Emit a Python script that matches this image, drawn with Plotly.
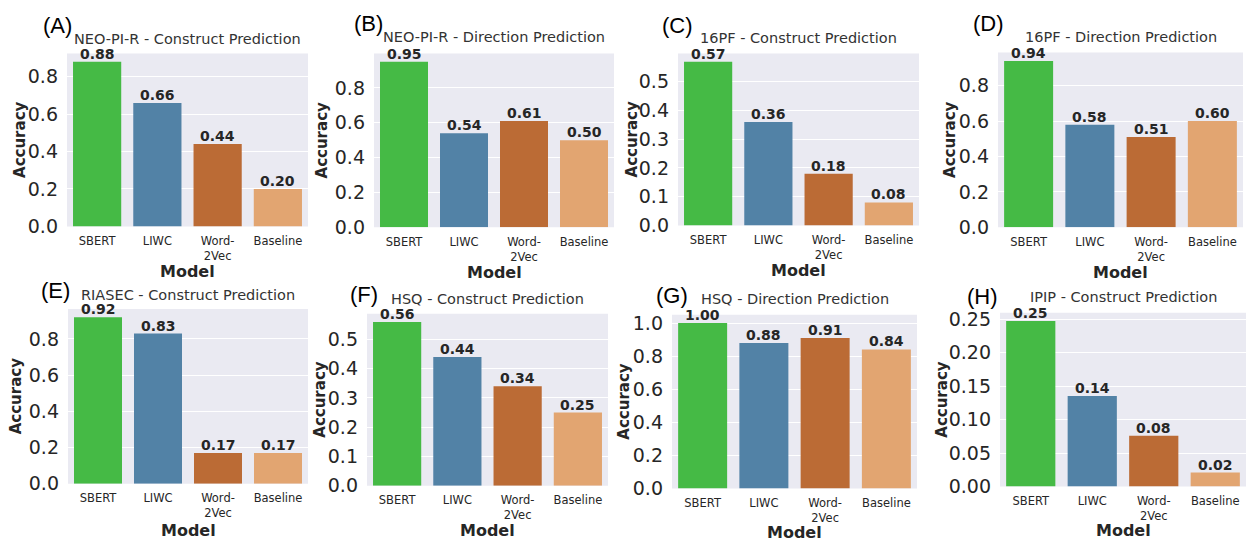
import plotly.graph_objects as go

models = ["SBERT", "LIWC", "Word-<br>2Vec", "Baseline"]
bar_colors = ["rgb(69,186,69)", "rgb(82,130,166)", "rgb(187,107,53)", "rgb(226,165,113)"]

panel_letters = ["(A)", "(B)", "(C)", "(D)", "(E)", "(F)", "(G)", "(H)"]
panel_titles = [
    "NEO-PI-R - Construct Prediction",
    "NEO-PI-R - Direction Prediction",
    "16PF - Construct Prediction",
    "16PF - Direction Prediction",
    "RIASEC - Construct Prediction",
    "HSQ - Construct Prediction",
    "HSQ - Direction Prediction",
    "IPIP - Construct Prediction",
]

acc_A = [0.88, 0.66, 0.44, 0.20]
acc_B = [0.95, 0.54, 0.61, 0.50]
acc_C = [0.57, 0.36, 0.18, 0.08]
acc_D = [0.94, 0.58, 0.51, 0.60]
acc_E = [0.92, 0.83, 0.17, 0.17]
acc_F = [0.56, 0.44, 0.34, 0.25]
acc_G = [1.00, 0.88, 0.91, 0.84]
acc_H = [0.247, 0.135, 0.076, 0.021]
all_acc = [acc_A, acc_B, acc_C, acc_D, acc_E, acc_F, acc_G, acc_H]

y_dticks = [0.2, 0.2, 0.1, 0.2, 0.2, 0.1, 0.2, 0.05]
y_formats = [".1f", ".1f", ".1f", ".1f", ".1f", ".1f", ".1f", ".2f"]

# layout (pixel boxes of plot areas)
W, H = 1247, 551
boxes = [
    (67, 308, 50, 228), (374, 614, 50, 229), (678, 919, 50, 227), (998, 1243, 49, 229),
    (68, 308, 313, 493), (367, 608, 318, 495), (672, 917, 319, 498), (1000, 1246, 317, 496),
]
title_y = [35, 33, 34, 33, 299, 303, 303, 301]
letter_pos = [(41, 21), (352, 19), (660, 21), (971, 19), (39, 294), (348, 298), (654, 299), (965, 300)]
ylab_x = [20, 322, 632, 950, 16, 320, 624, 942]
xlab_y = [274, 275, 273, 275, 541, 541, 543, 541]

TXT = "#262626"
fig = go.Figure()
annotations = []
layout = {}

for i, acc in enumerate(all_acc):
    n = i + 1
    xa = "x" if n == 1 else f"x{n}"
    ya = "y" if n == 1 else f"y{n}"
    x0, x1, y0, y1 = boxes[i]
    fig.add_trace(go.Bar(
        x=models, y=acc, xaxis=xa, yaxis=ya,
        marker=dict(color=bar_colors, line=dict(width=0)),
        showlegend=False, hoverinfo="x+y",
    ))
    ymax = max(acc) * 1.05
    layout[f"xaxis{'' if n == 1 else n}"] = dict(
        domain=[x0 / W, x1 / W], anchor=ya, range=[-0.5, 3.5],
        showgrid=False, zeroline=False, showline=False, ticks="",
        tickfont=dict(family="DejaVu Sans", size=11.5, color=TXT),
        ticklabelstandoff=6, fixedrange=True,
    )
    layout[f"yaxis{'' if n == 1 else n}"] = dict(
        domain=[1 - y1 / H, 1 - y0 / H], anchor=xa, range=[0, ymax],
        dtick=y_dticks[i], tick0=0, tickformat=y_formats[i],
        showgrid=True, gridcolor="white", gridwidth=1.2,
        zeroline=False, showline=False, ticks="",
        tickfont=dict(family="DejaVu Sans", size=19, color=TXT),
        ticklabelstandoff=8, fixedrange=True,
    )
    # plot background
    fig.add_shape(type="rect", xref="paper", yref="paper",
                  x0=x0 / W, x1=x1 / W, y0=1 - y1 / H, y1=1 - y0 / H,
                  fillcolor="#eaeaf2", line=dict(width=0), layer="below")
    # value labels
    for m, v in zip(models, acc):
        annotations.append(dict(
            x=m, y=v, xref=xa, yref=ya, text=f"<b>{v:.2f}</b>", showarrow=False,
            yanchor="bottom", yshift=-2,
            font=dict(family="DejaVu Sans", size=14, color=TXT),
        ))
    cx = (x0 + x1) / 2 / W
    annotations.append(dict(
        x=cx, y=1 - title_y[i] / H, xref="paper", yref="paper",
        text=panel_titles[i], showarrow=False, xanchor="center", yanchor="middle",
        font=dict(family="DejaVu Sans", size=14.5, color="#333333"),
    ))
    lx, ly = letter_pos[i]
    annotations.append(dict(
        x=lx / W, y=1 - ly / H, xref="paper", yref="paper",
        text=panel_letters[i], showarrow=False, xanchor="left", yanchor="middle",
        font=dict(family="Liberation Sans", size=22, color="black"),
    ))
    annotations.append(dict(
        x=ylab_x[i] / W, y=1 - (y0 + y1) / 2 / H, xref="paper", yref="paper",
        text="<b>Accuracy</b>", showarrow=False, textangle=-90,
        xanchor="center", yanchor="middle",
        font=dict(family="DejaVu Sans", size=15, color=TXT),
    ))
    annotations.append(dict(
        x=cx, y=1 - xlab_y[i] / H, xref="paper", yref="paper",
        text="<b>Model</b>", showarrow=False, xanchor="center", yanchor="middle",
        font=dict(family="DejaVu Sans", size=16, color=TXT),
    ))

fig.update_layout(
    width=W, height=H, margin=dict(l=0, r=0, t=0, b=0),
    paper_bgcolor="white", plot_bgcolor="rgba(0,0,0,0)",
    bargap=0.2, annotations=annotations, **layout,
)

fig.write_html("out.html")
